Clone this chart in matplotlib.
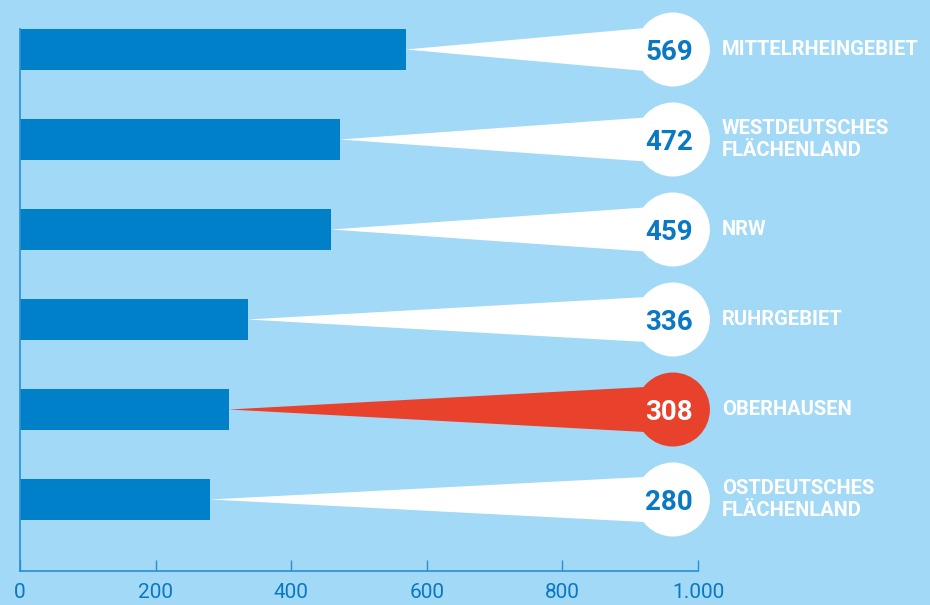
import matplotlib
matplotlib.use('Agg')
import matplotlib.pyplot as plt
from matplotlib.patches import Ellipse, Polygon

regions = ['MITTELRHEINGEBIET', 'WESTDEUTSCHES\nFLÄCHENLAND', 'NRW',
           'RUHRGEBIET', 'OBERHAUSEN', 'OSTDEUTSCHES\nFLÄCHENLAND']
values = [569, 472, 459, 336, 308, 280]
highlight = 'OBERHAUSEN'
xticks = [0, 200, 400, 600, 800, 1000]
xtick_labels = ['0', '200', '400', '600', '800', '1.000']

BG = '#A2D9F7'
BAR = '#0080C9'
BLUE_TXT = '#0A78C2'
RED = '#E8412C'
AXIS = '#2B8FD4'

plt.rcParams['font.family'] = ['Roboto', 'DejaVu Sans']

W, H = 930, 605
fig = plt.figure(figsize=(W / 100, H / 100), dpi=100, facecolor=BG)

# axes placed in pixel terms: x 0..1000 -> px 20..698, bottom spine at px 571
left, right, top, bottom = 20, 698, 29, 571
ax = fig.add_axes([left / W, 1 - bottom / H, (right - left) / W, (bottom - top) / H])
ax.set_facecolor(BG)

row_px = 90.0
first_center = 49.5
ax.set_xlim(0, 1000)
ax.set_ylim((bottom - first_center) / row_px, (top - first_center) / row_px)

xscale = (right - left) / 1000.0  # px per unit
circle_x = 963
circle_r = 37.0
wedge_half = 24.0

for i, (name, v) in enumerate(zip(regions, values)):
    is_hl = name == highlight
    ax.barh(i, v, height=41 / row_px, color=BAR, zorder=2)
    wcol = RED if is_hl else 'white'
    tri = Polygon([(v, i), (circle_x, i - wedge_half / row_px), (circle_x, i + wedge_half / row_px)],
                  closed=True, facecolor=wcol, edgecolor='none', zorder=3, clip_on=False)
    ax.add_patch(tri)
    circ = Ellipse((circle_x, i), 2 * circle_r / xscale, 2 * circle_r / row_px,
                   facecolor=wcol, edgecolor='none', zorder=3, clip_on=False)
    ax.add_patch(circ)
    ax.text(circle_x + 20 / xscale, i, str(v), ha='right', va='center_baseline',
            fontsize=20, fontweight='bold', color='white' if is_hl else BLUE_TXT,
            zorder=4, clip_on=False)
    ax.text((722 - left) / xscale, i, name, ha='left', va='center',
            fontsize=14.5, fontweight='bold', color='white', linespacing=1.15,
            zorder=4, clip_on=False)

for s in ['top', 'right']:
    ax.spines[s].set_visible(False)
for s in ['left', 'bottom']:
    ax.spines[s].set_color(AXIS)
    ax.spines[s].set_linewidth(1.2)

ax.set_xticks(xticks)
ax.set_xticklabels(xtick_labels)
ax.set_yticks([])
ax.tick_params(axis='x', direction='in', length=8, width=1.0, color=AXIS,
               labelcolor=BLUE_TXT, labelsize=15, pad=9)

fig.savefig('out.png', dpi=100, facecolor=BG)
